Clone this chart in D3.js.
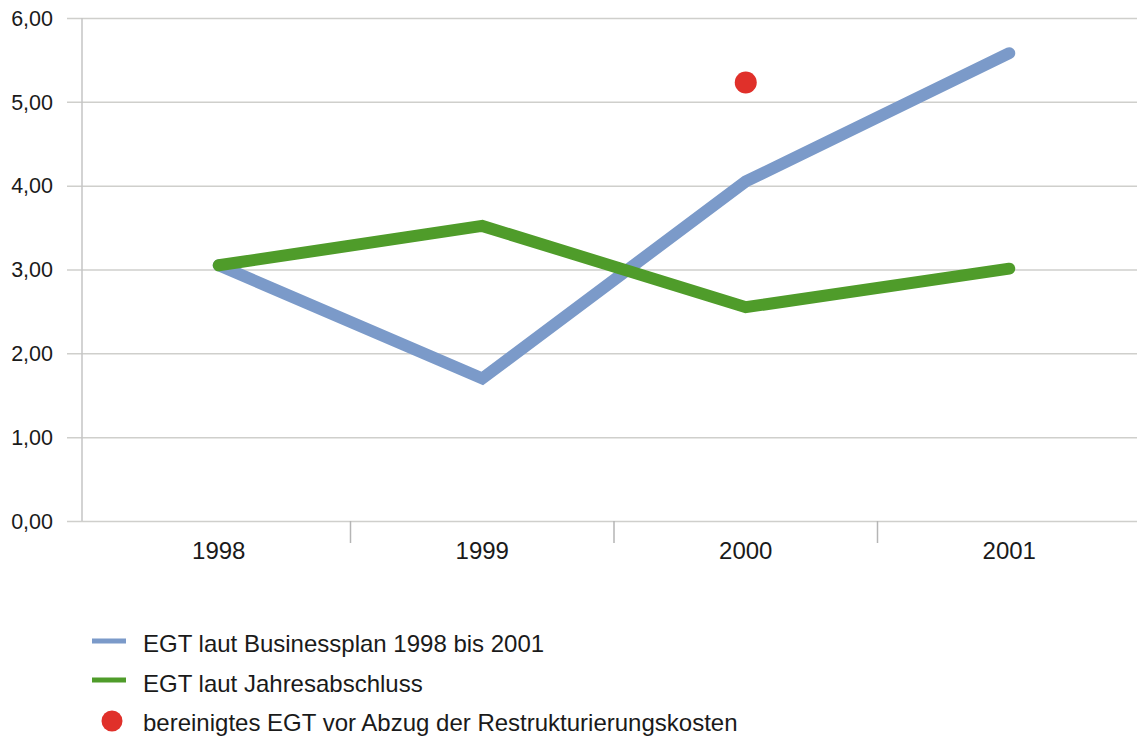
<!DOCTYPE html>
<html>
<head>
<meta charset="utf-8">
<script src="https://cdn.jsdelivr.net/npm/d3@7"></script>
<style>
html,body{margin:0;padding:0;background:#fff;}
svg{display:block;}
text{font-family:"Liberation Sans",sans-serif;fill:#1a1a1a;}
</style>
</head>
<body>
<svg id="chart" width="1137" height="736"></svg>
<script>
const years = ["1998", "1999", "2000", "2001"];
const planValues = [3.05, 1.70, 4.05, 5.58];
const actualValues = [3.05, 3.52, 2.55, 3.01];
const adjustedYears = ["2000"];
const adjustedValues = [5.23];
const yTicks = [0, 1, 2, 3, 4, 5, 6];
const legendLabels = [
  "EGT laut Businessplan 1998 bis 2001",
  "EGT laut Jahresabschluss",
  "bereinigtes EGT vor Abzug der Restrukturierungskosten"
];

const W = 1137, H = 736;
const svg = d3.select("#chart");
const locale = d3.formatLocale({decimal: ",", thousands: ".", grouping: [3], currency: ["", " €"]});
const fmt = locale.format(".2f");

const x = d3.scaleBand().domain(years).range([87, 1141]);
const y = d3.scaleLinear().domain([0, 6]).range([521, 18]);
const cx = d => x(d) + x.bandwidth() / 2;

// gridlines + y labels
const yAxis = d3.axisLeft(y).tickValues(yTicks).tickFormat(fmt)
  .tickSize(-(W - 67)).tickPadding(14);
const gy = svg.append("g").attr("transform", "translate(67,0)").call(yAxis);
gy.select(".domain").remove();
gy.selectAll(".tick line").attr("stroke", "#cfcfcc").attr("stroke-width", 1.5);
gy.selectAll(".tick text").attr("font-size", 21.5).attr("fill", "#1a1a1a")
  .attr("font-family", "Liberation Sans").attr("dy", "0.34em");

// left axis line
svg.append("line").attr("x1", 82).attr("x2", 82).attr("y1", y(6)).attr("y2", y(0))
  .attr("stroke", "#c4c4c4").attr("stroke-width", 1.5);

// x axis
const xAxis = d3.axisBottom(x).tickSize(0).tickPadding(21);
const gx = svg.append("g").attr("transform", `translate(0,${y(0)})`).call(xAxis);
gx.select(".domain").remove();
gx.selectAll(".tick text").attr("font-size", 24).attr("fill", "#1a1a1a")
  .attr("font-family", "Liberation Sans");
// category separators
svg.append("g").selectAll("line").data(years.slice(1)).join("line")
  .attr("x1", d => x(d)).attr("x2", d => x(d))
  .attr("y1", y(0)).attr("y2", y(0) + 22)
  .attr("stroke", "#b5b5b5").attr("stroke-width", 1.5);

const line = d3.line().x(d => cx(d[0])).y(d => y(d[1]));

svg.append("path").datum(years.map((d, i) => [d, planValues[i]]))
  .attr("d", line).attr("fill", "none").attr("stroke", "#7b9ac9")
  .attr("stroke-width", 12).attr("stroke-linecap", "round").attr("stroke-linejoin", "miter");

svg.append("path").datum(years.map((d, i) => [d, actualValues[i]]))
  .attr("d", line).attr("fill", "none").attr("stroke", "#4f9c2a")
  .attr("stroke-width", 12).attr("stroke-linecap", "round").attr("stroke-linejoin", "miter");

svg.append("g").selectAll("circle").data(adjustedYears.map((d, i) => [d, adjustedValues[i]]))
  .join("circle").attr("cx", d => cx(d[0])).attr("cy", d => y(d[1])).attr("r", 11)
  .attr("fill", "#e0302a");

// legend
const lg = svg.append("g");
const swatchY = [641, 680, 721];
const baseY = [652, 692, 731];
const swatchColors = ["#7b9ac9", "#4f9c2a", "#e0302a"];
legendLabels.forEach((t, i) => {
  if (i < 2) {
    lg.append("line").attr("x1", 92).attr("x2", 126).attr("y1", swatchY[i]).attr("y2", swatchY[i])
      .attr("stroke", swatchColors[i]).attr("stroke-width", 5);
  } else {
    lg.append("circle").attr("cx", 112).attr("cy", swatchY[i]).attr("r", 10.5).attr("fill", swatchColors[i]);
  }
  lg.append("text").attr("x", 143).attr("y", baseY[i])
    .attr("font-size", 24).text(t);
});
</script>
</body>
</html>
